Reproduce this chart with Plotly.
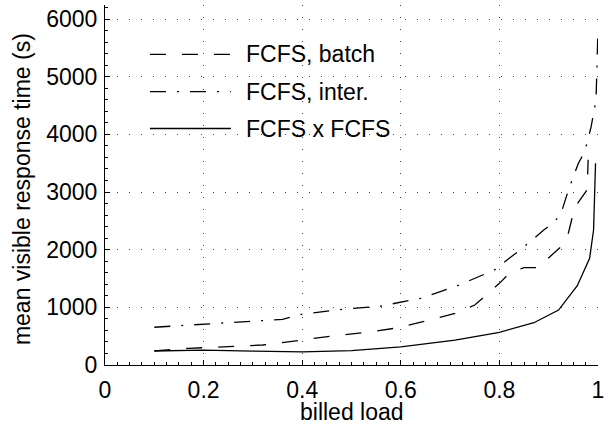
import plotly.graph_objects as go

# ---- data ----
load_batch = [0.10, 0.17, 0.25, 0.32, 0.40, 0.46, 0.53, 0.59, 0.645, 0.71, 0.75, 0.80, 0.82,
              0.85, 0.88, 0.90, 0.925, 0.94, 0.948, 0.955, 0.978, 0.98]
resp_batch = [245, 289, 318, 347, 433, 503, 566, 640, 751, 896, 1040, 1416, 1590,
              1690, 1690, 1860, 2050, 2290, 2570, 2760, 3040, 3560]

load_inter = [0.10, 0.17, 0.25, 0.36, 0.40, 0.48, 0.56, 0.64, 0.71, 0.79, 0.82, 0.85,
              0.89, 0.91, 0.925, 0.94, 0.96, 0.973, 0.986, 0.996, 1.0]
resp_inter = [655, 694, 730, 792, 880, 965, 1023, 1156, 1358, 1647, 1850, 2050,
              2340, 2466, 2629, 3033, 3494, 3697, 4130, 4600, 5850]

load_ff = [0.10, 0.20, 0.30, 0.40, 0.50, 0.60, 0.71, 0.76, 0.80, 0.87, 0.92, 0.958,
           0.983, 0.991, 0.995]
resp_ff = [243, 258, 240, 228, 250, 315, 433, 503, 567, 733, 953, 1375,
           1850, 2340, 3500]

series_names = ["FCFS, batch", "FCFS, inter.", "FCFS x FCFS"]
series_dash = ["16px,16px", "16px,11px,2px,11px", "solid"]

x_ticks = [0, 0.2, 0.4, 0.6, 0.8, 1]
x_ticklabels = ["0", "0.2", "0.4", "0.6", "0.8", "1"]
y_ticks = [0, 1000, 2000, 3000, 4000, 5000, 6000]
y_ticklabels = ["0", "1000", "2000", "3000", "4000", "5000", "6000"]
x_title = "billed load"
y_title = "mean visible response time (s)"

FONT = "Liberation Sans, Arial, Helvetica, sans-serif"
FS = 23

fig = go.Figure()
for xs, ys, name, dash in zip([load_batch, load_inter, load_ff],
                              [resp_batch, resp_inter, resp_ff],
                              series_names, series_dash):
    fig.add_trace(go.Scatter(x=xs, y=ys, mode="lines", name=name,
                             line=dict(color="black", width=1.3, dash=dash),
                             showlegend=False))

# plot geometry (pixels) used for the hand-drawn legend and titles
L, R, T, B = 105, 9.5, 5, 63
W, H = 608, 428
pw, ph = W - L - R, H - T - B

def px_x(p):
    return (p - L) / pw

def px_y(p):
    return (H - B - p) / ph

# legend background (covers grid like MATLAB legend)
fig.add_shape(type="rect", xref="paper", yref="paper",
              x0=px_x(135), x1=px_x(395), y0=px_y(145), y1=px_y(42),
              line=dict(width=0), fillcolor="white", layer="between")
rows = [54.3, 91.7, 128.5]
for name, dash, ry in zip(series_names, series_dash, rows):
    fig.add_shape(type="line", xref="paper", yref="paper",
                  x0=px_x(150), x1=px_x(231), y0=px_y(ry), y1=px_y(ry),
                  line=dict(color="black", width=1.3, dash=dash), layer="above")
    fig.add_annotation(xref="paper", yref="paper", x=px_x(244), y=px_y(ry),
                       text=name, showarrow=False, xanchor="left", yanchor="middle",
                       font=dict(family=FONT, size=FS, color="black"))

# axis titles
fig.add_annotation(xref="paper", yref="paper", x=0.5, y=px_y(427),
                   text=x_title, showarrow=False, xanchor="center", yanchor="bottom",
                   font=dict(family=FONT, size=FS, color="black"))
fig.add_annotation(xref="paper", yref="paper", x=px_x(22), y=px_y(189),
                   text=y_title, showarrow=False, xanchor="center", yanchor="middle",
                   textangle=-90, font=dict(family=FONT, size=FS, color="black"))

axis_common = dict(
    showline=True, linecolor="black", linewidth=1,
    ticks="inside", ticklen=5, tickwidth=1, tickcolor="black",
    showgrid=True, gridcolor="#444444", gridwidth=1, griddash="1px,11px",
    zeroline=False, mirror=False,
    tickfont=dict(family=FONT, size=FS, color="black"),
)

fig.update_xaxes(range=[0, 1], tickvals=x_ticks, ticktext=x_ticklabels,
                 minor=dict(ticks="inside", ticklen=3, tickcolor="black", dtick=0.025,
                            showgrid=False),
                 ticklabelstandoff=4,
                 **axis_common)
fig.update_yaxes(range=[0, 6243], tickvals=y_ticks, ticktext=y_ticklabels,
                 minor=dict(ticks="inside", ticklen=3, tickcolor="black", dtick=200,
                            showgrid=False),
                 ticklabelstandoff=2,
                 **axis_common)

fig.update_layout(
    width=W, height=H,
    margin=dict(l=L, r=R, t=T, b=B, autoexpand=False),
    paper_bgcolor="white", plot_bgcolor="white",
    font=dict(family=FONT, size=FS, color="black"),
    showlegend=False,
)

fig.write_html("out.html", config={"displayModeBar": False},
               post_script="document.body.style.margin='0';document.body.style.overflow='hidden';")
